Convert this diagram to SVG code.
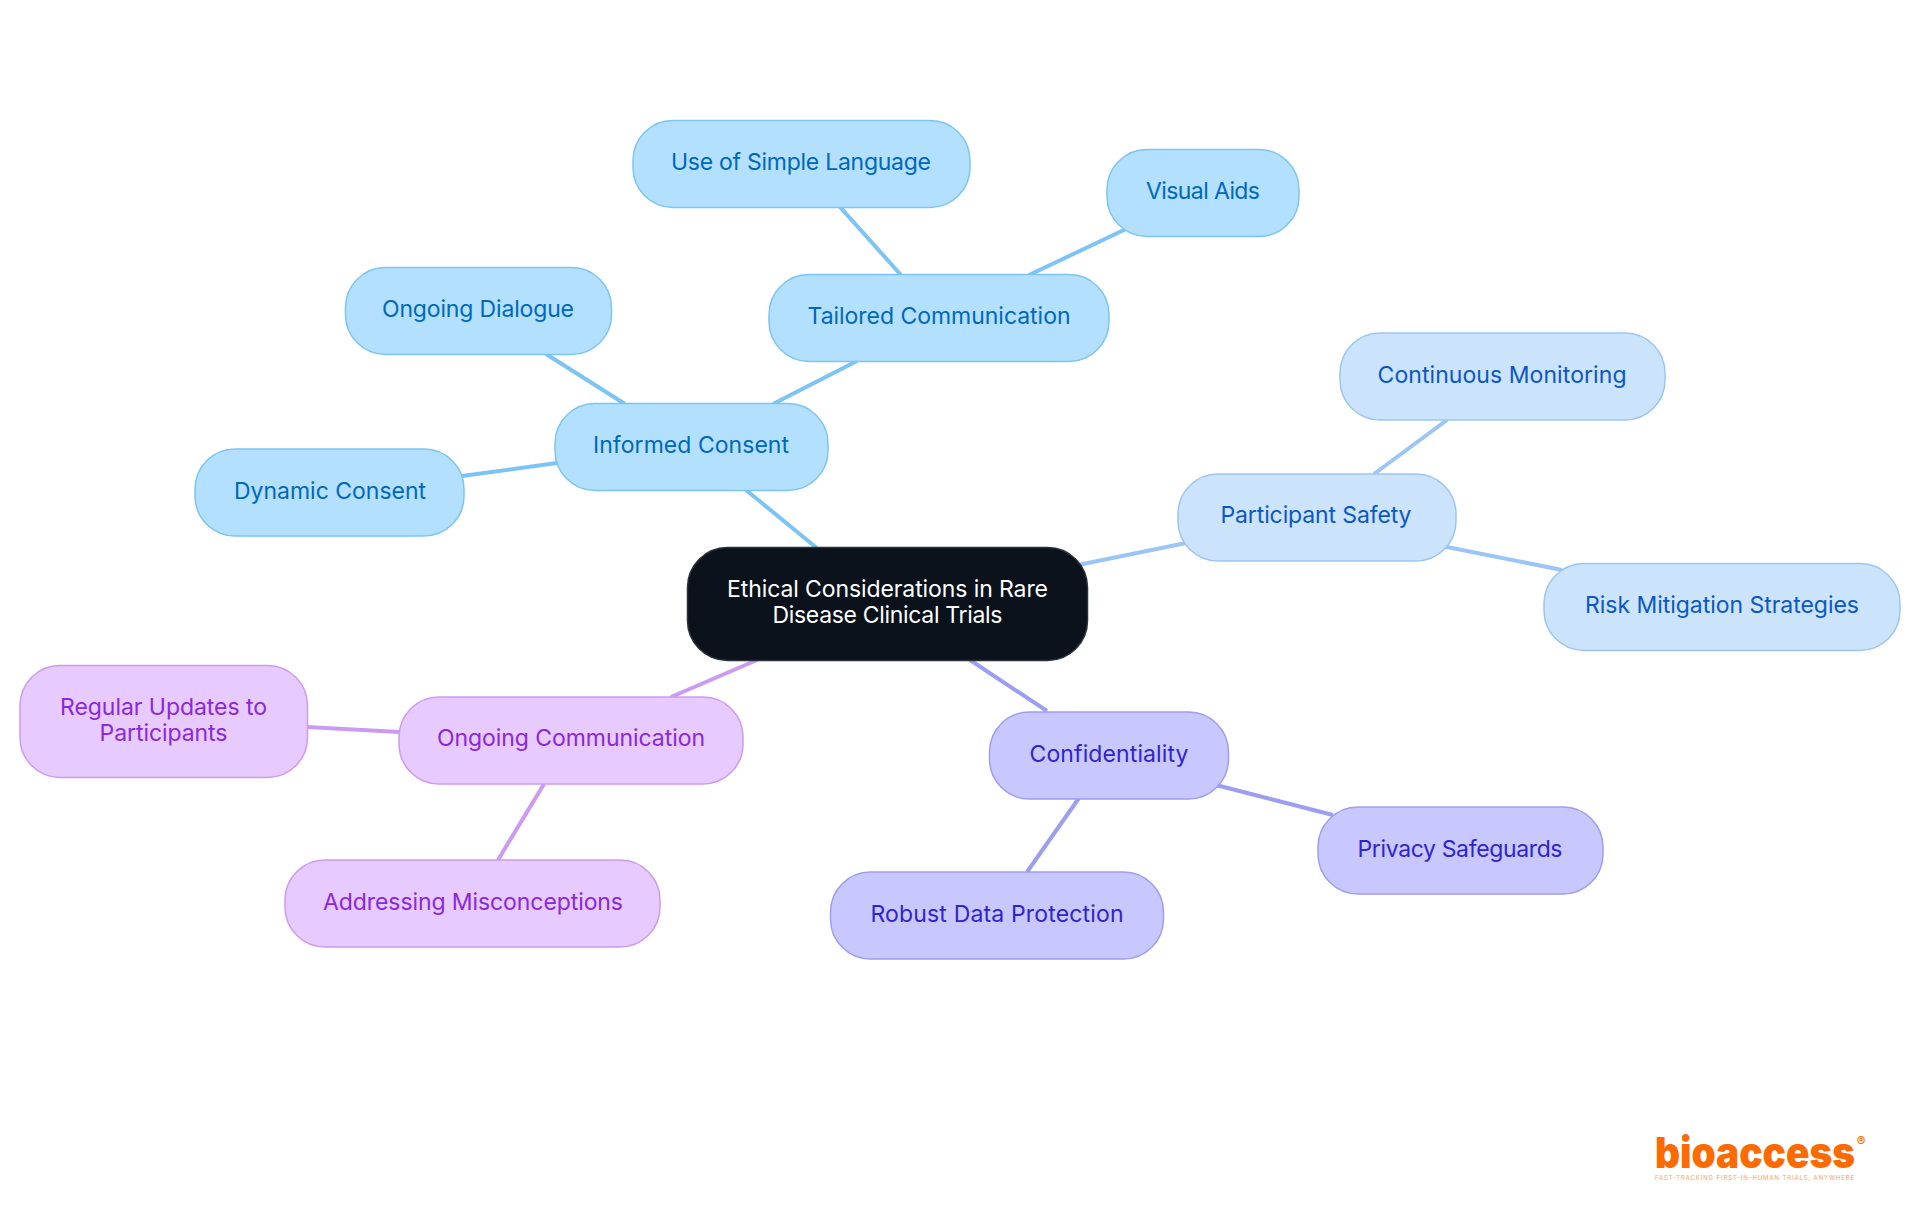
<svg xmlns="http://www.w3.org/2000/svg" width="1920" height="1215" viewBox="0 0 1920 1215">
<style>
text{font-family:"Inter","Noto Sans","Liberation Sans",sans-serif;font-size:23px;font-weight:380;text-anchor:middle}
.c line{stroke-width:4;fill:none}
.n rect{stroke-width:1.5}
.b rect{fill:#b3e0ff;stroke:#7cc4f5}.b text{fill:#0068ba}
.l rect{fill:#cce3fc;stroke:#9bc5f5}.l text{fill:#0b58c2}
.i rect{fill:#c8c8ff;stroke:#9d9df2}.i text{fill:#3024ce}
.p rect{fill:#e7caff;stroke:#cb9bf2}.p text{fill:#8a28da}
.lb{stroke:#7cc4f5}.ll{stroke:#9bc5f5}.li{stroke:#9d9df2}.lp{stroke:#cb9bf2}
</style>
<rect width="1920" height="1215" fill="#fff"/>
<g id="connectors" class="c">
<line class="lb" x1="746" y1="490" x2="818" y2="549"/>
<line class="lb" x1="773" y1="404" x2="857" y2="361"/>
<line class="lb" x1="625" y1="404" x2="546" y2="354"/>
<line class="lb" x1="557" y1="463" x2="462" y2="476"/>
<line class="lb" x1="901" y1="275" x2="840" y2="207"/>
<line class="lb" x1="1029" y1="275" x2="1126" y2="229"/>
<line class="ll" x1="1078" y1="565" x2="1186" y2="543"/>
<line class="ll" x1="1374" y1="474" x2="1447" y2="420"/>
<line class="ll" x1="1442" y1="546" x2="1562" y2="570"/>
<line class="li" x1="970" y1="660" x2="1047" y2="711"/>
<line class="li" x1="1216" y1="785" x2="1333" y2="815"/>
<line class="li" x1="1079" y1="798" x2="1027" y2="872"/>
<line class="lp" x1="757" y1="660" x2="671" y2="697"/>
<line class="lp" x1="399" y1="732" x2="307" y2="727"/>
<line class="lp" x1="544" y1="784" x2="498" y2="860"/>
</g>
<g id="root" class="n"><rect x="687.500" y="547.500" width="400" height="113" rx="40" fill="#0b121b" stroke="#2a3038"/><text fill="#fff" x="887.500" y="597" textLength="321">Ethical Considerations in Rare</text><text fill="#fff" x="887.500" y="623" textLength="230">Disease Clinical Trials</text></g>
<g id="informed-consent" class="n b"><rect x="555" y="403.500" width="273" height="87" rx="40"/><text x="691" y="453" textLength="196">Informed Consent</text></g>
<g id="tailored-communication" class="n b"><rect x="769" y="274.500" width="340" height="87" rx="40"/><text x="939" y="324" textLength="263">Tailored Communication</text></g>
<g id="use-of-simple-language" class="n b"><rect x="633" y="120.500" width="337" height="87" rx="40"/><text x="801" y="170" textLength="260">Use of Simple Language</text></g>
<g id="visual-aids" class="n b"><rect x="1107" y="149.500" width="192" height="87" rx="40"/><text x="1203" y="199" textLength="114">Visual Aids</text></g>
<g id="ongoing-dialogue" class="n b"><rect x="345.500" y="267.500" width="266" height="87" rx="40"/><text x="478" y="317" textLength="192">Ongoing Dialogue</text></g>
<g id="dynamic-consent" class="n b"><rect x="195" y="449" width="269" height="87" rx="40"/><text x="330" y="499" textLength="192">Dynamic Consent</text></g>
<g id="participant-safety" class="n l"><rect x="1178" y="474" width="278" height="87" rx="40"/><text x="1316" y="523" textLength="191">Participant Safety</text></g>
<g id="continuous-monitoring" class="n l"><rect x="1340" y="333" width="325" height="87" rx="40"/><text x="1502" y="383" textLength="249">Continuous Monitoring</text></g>
<g id="risk-mitigation" class="n l"><rect x="1544" y="563.500" width="356" height="87" rx="40"/><text x="1722" y="613" textLength="274">Risk Mitigation Strategies</text></g>
<g id="confidentiality" class="n i"><rect x="989.500" y="712" width="239" height="87" rx="40"/><text x="1109" y="762" textLength="159">Confidentiality</text></g>
<g id="privacy-safeguards" class="n i"><rect x="1318" y="807" width="285" height="87" rx="40"/><text x="1460" y="857" textLength="205">Privacy Safeguards</text></g>
<g id="robust-data-protection" class="n i"><rect x="830.500" y="872" width="333" height="87" rx="40"/><text x="997" y="922" textLength="253">Robust Data Protection</text></g>
<g id="ongoing-communication" class="n p"><rect x="399" y="697" width="344" height="87" rx="40"/><text x="571" y="746" textLength="268">Ongoing Communication</text></g>
<g id="regular-updates" class="n p"><rect x="20" y="665.500" width="287.500" height="112" rx="40"/><text x="163.500" y="715" textLength="207">Regular Updates to</text><text x="163.500" y="741" textLength="128">Participants</text></g>
<g id="addressing-misconceptions" class="n p"><rect x="285" y="860" width="375" height="87" rx="40"/><text x="473" y="910" textLength="300">Addressing Misconceptions</text></g>
<g id="logo">
<text x="1755" y="1168" textLength="200" lengthAdjust="spacingAndGlyphs" style="font-size:43px;font-weight:900" fill="#ff6a00">bioaccess</text>
<text x="1861" y="1146" style="font-size:13px;font-weight:700" fill="#ff6a00">®</text>
<text x="1754.500" y="1180" textLength="199" style="font-size:6px;font-weight:400" fill="#ffa060">FAST-TRACKING FIRST-IN-HUMAN TRIALS, ANYWHERE</text>
</g>
</svg>
